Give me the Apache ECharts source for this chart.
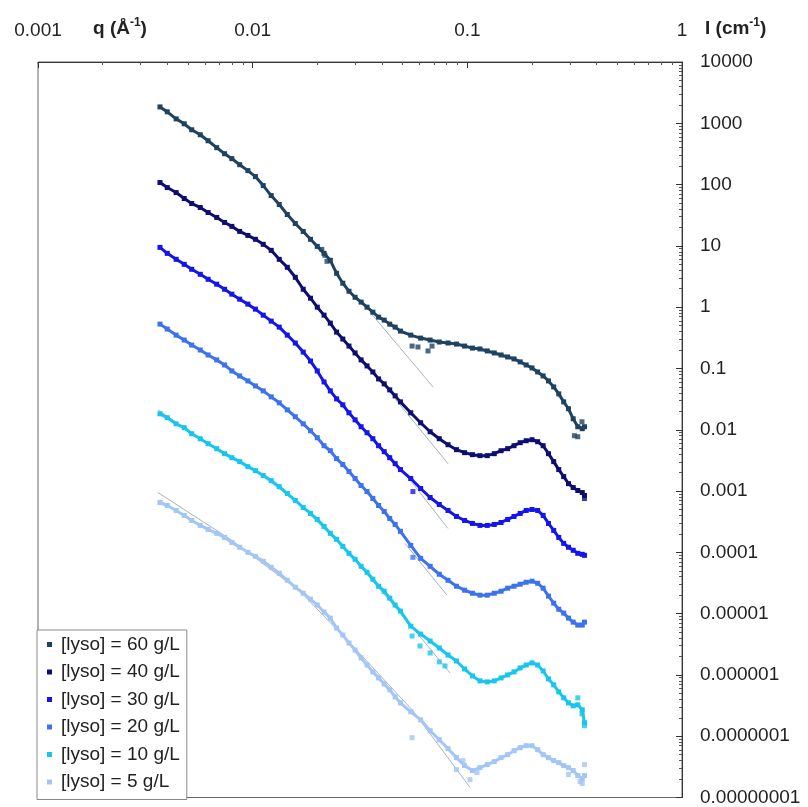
<!DOCTYPE html>
<html><head><meta charset="utf-8">
<script src="https://cdn.jsdelivr.net/npm/echarts@6/dist/echarts.min.js"></script>
<style>html,body{margin:0;padding:0;background:#fff}#c{width:808px;height:807px}</style>
</head><body><div id="c"></div>
<script>
// ---------- data ----------
const seriesNames = ['[lyso] = 60 g/L','[lyso] = 40 g/L','[lyso] = 30 g/L','[lyso] = 20 g/L','[lyso] = 10 g/L','[lyso] = 5 g/L'];
const xTickLabels = ['0.001','0.01','0.1','1'];
const yTickLabels = ['0.00000001','0.0000001','0.000001','0.00001','0.0001','0.001','0.01','0.1','1','10','100','1000','10000'];

const q = [0.0037,0.0040,0.0044,0.0048,0.0052,0.0057,0.0062,0.0068,0.0074,0.0080,0.0087,0.0095,0.0103,0.0112,0.0122,0.0133,0.0145,0.0158,0.0172,0.0186,0.0200,0.0215,0.0230,0.0246,0.0263,0.0281,0.0300,0.0320,0.0341,0.0363,0.0386,0.0410,0.0435,0.0461,0.0488,0.0545,0.0606,0.0671,0.0740,0.0813,0.0890,0.0971,0.1056,0.1145,0.1238,0.1335,0.1436,0.1541,0.1650,0.1763,0.1880,0.2001,0.2126,0.2255,0.2388,0.2525,0.2666,0.2811,0.2960,0.3113,0.3270,0.3431,0.3513];

const I60 = [1850,1540,1180,981,784,650,519,400,319,265,211,169,135,96.3,66.2,47.3,32.5,23.2,17.2,12.8,9.81,7.55,5.81,3.57,2.46,1.82,1.45,1.21,1.00,0.829,0.688,0.615,0.529,0.473,0.407,0.350,0.313,0.291,0.270,0.260,0.250,0.232,0.215,0.208,0.193,0.179,0.166,0.154,0.143,0.128,0.114,0.102,0.0877,0.0755,0.0626,0.0500,0.0385,0.0285,0.0220,0.0151,0.0112,0.0104,0.0112];
const I40 = [108,89.4,74.1,59.2,49.1,42.3,35.0,29.1,24.1,20.8,17.2,14.8,12.8,10.6,8.45,6.03,4.47,3.07,1.96,1.40,1.00,0.741,0.549,0.392,0.302,0.232,0.179,0.138,0.110,0.0877,0.0675,0.0560,0.0447,0.0357,0.0285,0.0189,0.0130,0.00928,0.00714,0.00570,0.00473,0.00423,0.00392,0.00378,0.00378,0.00407,0.00455,0.00491,0.00549,0.00615,0.00662,0.00688,0.00638,0.00549,0.00407,0.00302,0.00224,0.00172,0.00132,0.00114,0.00102,0.000945,0.000845];
const I30 = [9.45,7.55,6.03,5.00,4.15,3.44,2.85,2.37,1.96,1.63,1.35,1.12,0.928,0.741,0.592,0.473,0.350,0.260,0.185,0.132,0.0911,0.0603,0.0431,0.0319,0.0255,0.0189,0.0145,0.0112,0.00894,0.00714,0.00549,0.00439,0.00350,0.00280,0.00224,0.00160,0.00110,7.84e-4,6.03e-4,4.82e-4,3.85e-4,3.31e-4,2.96e-4,2.75e-4,2.75e-4,2.85e-4,3.07e-4,3.44e-4,3.85e-4,4.31e-4,4.82e-4,5.00e-4,4.82e-4,4.00e-4,2.96e-4,2.28e-4,1.75e-4,1.40e-4,1.21e-4,1.08e-4,9.63e-5,9.28e-5,8.94e-5];
const I20 = [0.529,0.439,0.350,0.291,0.241,0.200,0.166,0.138,0.114,0.0911,0.0755,0.0626,0.0519,0.0431,0.0344,0.0275,0.0211,0.0163,0.0125,0.00963,0.00741,0.00549,0.00455,0.00338,0.00270,0.00208,0.00160,0.00123,9.81e-4,7.55e-4,5.81e-4,4.64e-4,3.57e-4,2.85e-4,2.20e-4,1.30e-4,7.99e-5,5.92e-5,4.39e-5,3.50e-5,2.80e-5,2.41e-5,2.15e-5,2.00e-5,2.00e-5,2.15e-5,2.32e-5,2.60e-5,2.80e-5,3.02e-5,3.25e-5,3.38e-5,3.13e-5,2.60e-5,1.93e-5,1.48e-5,1.18e-5,1.02e-5,8.45e-6,7.27e-6,6.50e-6,6.50e-6,7.27e-6];
const I10 = [0.0182,0.0157,0.0125,0.0108,0.00861,0.00714,0.00592,0.00491,0.00407,0.00350,0.00302,0.00250,0.00215,0.00179,0.00148,0.00118,9.11e-4,7.01e-4,5.39e-4,4.31e-4,3.44e-4,2.65e-4,2.04e-4,1.63e-4,1.25e-4,9.63e-5,7.69e-5,5.92e-5,4.73e-5,3.64e-5,2.80e-5,2.32e-5,1.79e-5,1.38e-5,1.10e-5,6.26e-6,4.64e-6,3.57e-6,2.75e-6,2.11e-6,1.69e-6,1.25e-6,9.63e-7,7.99e-7,7.69e-7,7.99e-7,8.94e-7,1.00e-6,1.12e-6,1.30e-6,1.45e-6,1.57e-6,1.45e-6,1.16e-6,8.61e-7,6.88e-7,5.29e-7,4.23e-7,3.50e-7,3.13e-7,3.25e-7,2.70e-7,1.66e-7];
const I5 = [6.50e-4,5.81e-4,4.82e-4,4.00e-4,3.31e-4,2.75e-4,2.37e-4,2.04e-4,1.75e-4,1.45e-4,1.21e-4,1.00e-4,8.61e-5,7.14e-5,5.70e-5,4.55e-5,3.50e-5,2.70e-5,2.15e-5,1.72e-5,1.38e-5,1.06e-5,8.45e-6,5.81e-6,4.47e-6,3.31e-6,2.55e-6,1.89e-6,1.45e-6,1.12e-6,8.94e-7,7.14e-7,5.70e-7,4.39e-7,3.50e-7,2.50e-7,1.85e-7,1.23e-7,8.77e-8,6.26e-8,4.47e-8,3.31e-8,2.75e-8,3.07e-8,3.44e-8,3.85e-8,4.47e-8,5.00e-8,5.81e-8,6.50e-8,7.01e-8,7.01e-8,6.03e-8,5.00e-8,4.47e-8,4.00e-8,3.71e-8,3.31e-8,3.07e-8,2.75e-8,2.28e-8,2.04e-8,2.28e-8];

// scattered (noisy) points
const O60q = [0.0210,0.0217,0.0222,0.0553,0.0589,0.0656,0.0685,0.3153,0.3270,0.3420];
const O60I = [8.77,7.01,5.60,0.232,0.224,0.193,0.232,0.00799,0.00769,0.0135];
const O40q = [0.3513];
const O40I = [7.55e-4];
const O30q = [0.0558];
const O30I = [9.81e-4];
const O20q = [0.0558];
const O20I = [8.29e-5];
const O10q = [0.0553,0.0602,0.0671,0.0740,0.0787,0.3270,0.3420,0.3513];
const O10I = [4.31e-6,2.96e-6,2.28e-6,1.63e-6,1.40e-6,4.23e-7,2.32e-7,1.48e-7];
const O5q = [0.0553,0.0890,0.0954,0.1029,0.1109,0.2960,0.3350,0.3431,0.3513];
const O5I = [9.46e-8,2.85e-8,4.00e-8,1.96e-8,2.55e-8,2.37e-8,1.82e-8,1.69e-8,3.44e-8];

// fitted model curves (thin grey)
const F60q = [0.0352,0.0692];           const F60I = [0.83,0.050];
const F40q = [0.0461,0.0813];           const F40I = [0.0319,0.0028];
const F30q = [0.0512,0.0813];           const F30I = [0.00193,2.45e-4];
const F20q = [0.0512,0.0804];           const F20I = [1.40e-4,2.00e-5];
const F10q = [0.00362,0.0057,0.00972,0.0166,0.0284,0.0558,0.0830];
const F10I = [0.0211,0.00714,0.00250,6.03e-4,9.3e-5,5.8e-6,1.08e-6];
const F5q = [0.00362,0.0080,0.0166,0.0284,0.0558,0.1029];
const F5I = [9.46e-4,1.57e-4,2.32e-5,3.31e-6,2.6e-7,1.46e-8];

// ---------- chart ----------
const colors = ['#1d4262','#0e0e72','#1414ec','#3c72f0','#16c6ee','#a2c6f6'];
const FONT = "'Liberation Sans', Arial, sans-serif";
const zip = (a, b) => a.map((v, i) => [v, b[i]]);
const mains = [I60, I40, I30, I20, I10, I5];
const outs = [[O60q,O60I],[O40q,O40I],[O30q,O30I],[O20q,O20I],[O10q,O10I],[O5q,O5I]];
const fits = [[F60q,F60I],[F40q,F40I],[F30q,F30I],[F20q,F20I],[F10q,F10I],[F5q,F5I]];

const series = [];
fits.forEach(([fq, fI]) => series.push({
  type: 'line', data: zip(fq, fI), showSymbol: false, symbol: 'none', z: 1,
  lineStyle: { color: '#a9b3bd', width: 1 }, silent: true
}));
mains.forEach((arr, k) => series.push({
  name: seriesNames[k], type: 'line', data: zip(q, arr), z: 3,
  symbol: 'rect', symbolSize: 5, showSymbol: true,
  itemStyle: { color: colors[k] },
  lineStyle: { color: colors[k], width: 3 }
}));
outs.forEach(([oq, oI], k) => series.push({
  type: 'scatter', data: zip(oq, oI), z: 3,
  symbol: 'rect', symbolSize: 5, itemStyle: { color: colors[k] }
}));

const chart = echarts.init(document.getElementById('c'), null, { renderer: 'canvas' });
chart.setOption({
  animation: false,
  backgroundColor: '#fff',
  color: colors,
  grid: { left: 38, right: 126, top: 62, bottom: 7, show: true, borderColor: '#666', borderWidth: 1 },
  xAxis: {
    type: 'log', logBase: 10, min: 0.001, max: 1, interval: 1, position: 'top',
    axisLine: { show: true, onZero: false, lineStyle: { color: '#333', width: 1 } },
    axisTick: { show: true, inside: true, length: 6, lineStyle: { color: '#333' } },
    minorTick: { show: true, splitNumber: 9, length: 3, lineStyle: { color: '#555' } },
    splitLine: { show: false },
    axisLabel: {
      margin: 22, fontSize: 19, color: '#222', fontFamily: FONT,
      showMinLabel: true, showMaxLabel: true,
      formatter: v => xTickLabels[Math.round(Math.log10(v)) + 3]
    }
  },
  yAxis: {
    type: 'log', logBase: 10, min: 1e-8, max: 1e4, interval: 1, position: 'right',
    axisLine: { show: true, onZero: false, lineStyle: { color: '#333', width: 1 } },
    axisTick: { show: true, inside: true, length: 6, lineStyle: { color: '#333' } },
    minorTick: { show: true, splitNumber: 9, length: 3, lineStyle: { color: '#555' } },
    splitLine: { show: false },
    axisLabel: {
      margin: 18, fontSize: 19, color: '#222', fontFamily: FONT, align: 'left',
      showMinLabel: true, showMaxLabel: true,
      formatter: v => yTickLabels[Math.round(Math.log10(v)) + 8]
    }
  },
  legend: {
    data: seriesNames, orient: 'vertical', left: 37, top: 630,
    icon: 'square', itemWidth: 9, itemHeight: 5, itemGap: 8.5,
    padding: [5, 7, 8, 10], borderColor: '#888', borderWidth: 1, backgroundColor: '#fff',
    textStyle: { fontSize: 19, lineHeight: 19, color: '#222', fontFamily: FONT }
  },
  graphic: [
    { type: 'text', left: 93, top: 17, z: 10, style: {
      text: '{b|q (Å}{s|-1}{b|)}', fontFamily: FONT,
      rich: { b: { fontSize: 19, fontWeight: 'bold', fill: '#222', fontFamily: FONT, lineHeight: 24 },
              s: { fontSize: 12, fontWeight: 'bold', fill: '#222', fontFamily: FONT, lineHeight: 12, verticalAlign: 'top' } } } },
    { type: 'text', left: 705, top: 17, z: 10, style: {
      text: '{b|I (cm}{s|-1}{b|)}', fontFamily: FONT,
      rich: { b: { fontSize: 19, fontWeight: 'bold', fill: '#222', fontFamily: FONT, lineHeight: 24 },
              s: { fontSize: 12, fontWeight: 'bold', fill: '#222', fontFamily: FONT, lineHeight: 12, verticalAlign: 'top' } } } }
  ],
  series: series
});
</script>
</body></html>
